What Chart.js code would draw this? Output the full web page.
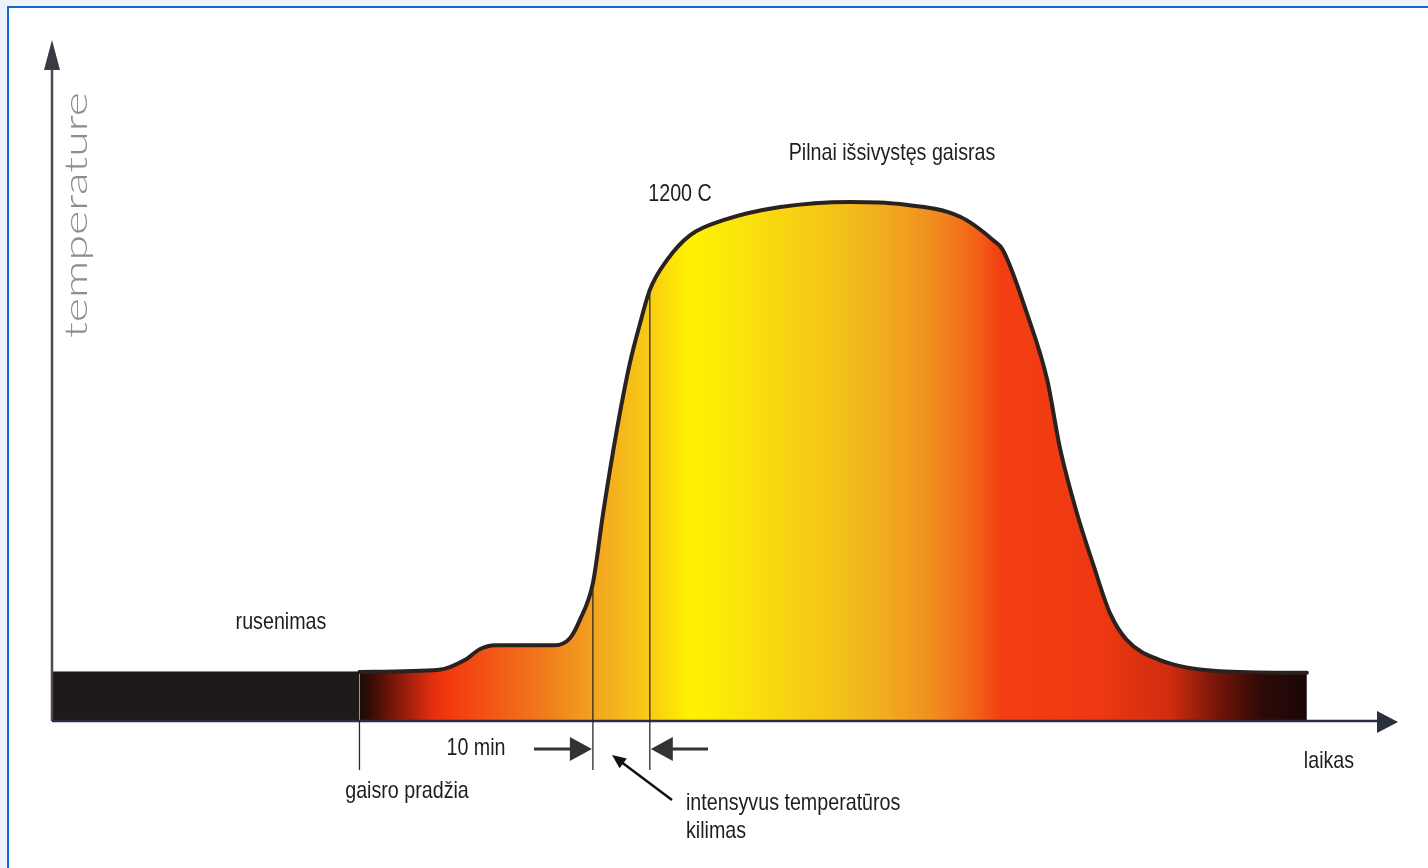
<!DOCTYPE html>
<html>
<head>
<meta charset="utf-8">
<script src="https://cdn.jsdelivr.net/npm/chart.js@4.4.0/dist/chart.umd.min.js"></script>
<style>
html, body { margin: 0; padding: 0; background: #eef3fb; overflow: hidden; }
#frame { position: absolute; left: 7px; top: 6px; width: 1440px; height: 900px; background: #fff;
  border-left: 2px solid #1767d2; border-top: 2px solid #1767d2; }
#wrap { position: absolute; left: 0; top: 0; width: 1428px; height: 868px; }
</style>
</head>
<body>
<div id="frame"></div>
<div id="wrap"><canvas id="myChart"></canvas></div>
<script>
// time in minutes, temperature in C
const smoulderTime = [0, 54]
const smoulderTemp = [113, 113]
const fireTime = [54, 68, 72.5, 75.2, 77.8, 88.3, 91, 92.7, 95, 96.8, 99.2, 101.5, 103.3, 105, 108, 112.1, 117.9, 127.9, 140.2, 148.9, 159.5, 165.3, 167, 171.2, 174.8, 177, 180, 182.8, 185.8, 188.8, 194.6, 205.1, 220.4]
const fireTemp = [113, 118, 141, 167, 176, 176, 193, 235, 322, 487, 682, 840, 934, 1012, 1082, 1141, 1176, 1207, 1219, 1214, 1184, 1129, 1106, 958, 800, 642, 487, 369, 252, 188, 141, 115, 111]

const fireStart = 54   // gaisro pradžia
const riseFrom = 95    // start of the 10 min band
const riseTo = 105

// colour along the time axis (minute, colour)
const gradientStops = [
  [54.1, '#1c0c08'], [56.2, '#3a0c06'], [61.1, '#8c1a0a'], [67.3, '#e8300f'], [69.9, '#f43a10'],
  [78.7, '#f25c18'], [87.5, '#f0801c'], [96.2, '#f2a820'], [105, '#f8cc14'], [112, '#fff200'],
  [117.3, '#fcea08'], [131.4, '#f6d014'], [143.7, '#f2b41e'], [154.2, '#f09020'], [162.1, '#f26418'],
  [166.5, '#f43e12'], [184, '#ee3812'], [196.4, '#d02c10'], [205.1, '#701408'], [212.2, '#2e0a06'],
  [220.4, '#1a0806']
]

const txtFont = "24px 'Liberation Sans', Arial, sans-serif"
const narrow = 0.82

function fireGradient(context) {
  const chart = context.chart
  const area = chart.chartArea
  if (!area) return null
  const xs = chart.scales.x
  const g = chart.ctx.createLinearGradient(area.left, 0, area.right, 0)
  gradientStops.forEach(s => {
    const p = (xs.getPixelForValue(s[0]) - area.left) / (area.right - area.left)
    g.addColorStop(Math.min(1, Math.max(0, p)), s[1])
  })
  return g
}

function arrowHead(ctx, tx, ty, dx, dy, len, half) {
  // tip at (tx,ty), pointing along (dx,dy)
  const n = Math.hypot(dx, dy)
  const ux = dx / n, uy = dy / n
  ctx.beginPath()
  ctx.moveTo(tx, ty)
  ctx.lineTo(tx - ux * len - uy * half, ty - uy * len + ux * half)
  ctx.lineTo(tx - ux * len + uy * half, ty - uy * len - ux * half)
  ctx.closePath()
  ctx.fill()
}

// condensed look: squeeze the text horizontally
function label(ctx, text, x, y, align) {
  ctx.save()
  ctx.translate(x, y)
  ctx.scale(narrow, 1)
  ctx.textAlign = align || 'center'
  ctx.fillText(text, 0, 0)
  ctx.restore()
}

const overlay = {
  id: 'overlay',
  afterDatasetsDraw(chart) {
    const ctx = chart.ctx
    const xs = chart.scales.x, ys = chart.scales.y
    const x0 = xs.getPixelForValue(0), y0 = ys.getPixelForValue(0)
    ctx.save()

    // axes
    ctx.strokeStyle = '#4a4a50'
    ctx.fillStyle = '#3a3a42'
    ctx.lineWidth = 2.5
    ctx.beginPath(); ctx.moveTo(x0, y0 + 1); ctx.lineTo(x0, 62); ctx.stroke()
    arrowHead(ctx, x0, 40, 0, -1, 30, 8)
    ctx.strokeStyle = '#2a2d44'
    ctx.fillStyle = '#2a3040'
    ctx.beginPath(); ctx.moveTo(x0, y0 + 1); ctx.lineTo(1385, y0 + 1); ctx.stroke()
    arrowHead(ctx, 1398, y0 + 2, 1, 0, 21, 11)

    // vertical markers
    ctx.strokeStyle = '#2a2a2a'
    ctx.lineWidth = 1.3
    const xa = xs.getPixelForValue(fireStart)
    ctx.beginPath(); ctx.moveTo(xa, y0 + 2); ctx.lineTo(xa, 770); ctx.stroke()
    const xb = xs.getPixelForValue(riseFrom)
    const yb = ys.getPixelForValue(fireTemp[fireTime.indexOf(riseFrom)])
    ctx.beginPath(); ctx.moveTo(xb, yb); ctx.lineTo(xb, 770); ctx.stroke()
    const xc = xs.getPixelForValue(riseTo)
    const yc = ys.getPixelForValue(fireTemp[fireTime.indexOf(riseTo)])
    ctx.beginPath(); ctx.moveTo(xc, yc); ctx.lineTo(xc, 770); ctx.stroke()

    // 10 min arrows
    ctx.strokeStyle = '#333'
    ctx.fillStyle = '#333'
    ctx.lineWidth = 3
    ctx.beginPath(); ctx.moveTo(534, 749); ctx.lineTo(572, 749); ctx.stroke()
    arrowHead(ctx, xb - 1, 749, 1, 0, 22, 12)
    ctx.beginPath(); ctx.moveTo(708, 749); ctx.lineTo(670, 749); ctx.stroke()
    arrowHead(ctx, xc + 1, 749, -1, 0, 22, 12)
    // pointer to the band
    ctx.lineWidth = 2.5
    ctx.strokeStyle = '#111'
    ctx.fillStyle = '#111'
    ctx.beginPath(); ctx.moveTo(672, 800); ctx.lineTo(620, 761); ctx.stroke()
    arrowHead(ctx, 612, 755, -60, -45, 14, 6)

    // labels
    ctx.fillStyle = '#1e1e1e'
    ctx.font = txtFont
    ctx.textBaseline = 'middle'
    label(ctx, 'rusenimas', 281, 622)
    label(ctx, 'Pilnai išsivystęs gaisras', 892, 153)
    label(ctx, '1200 C', 680, 194)
    label(ctx, '10 min', 476, 748)
    label(ctx, 'gaisro pradžia', 407, 791)
    label(ctx, 'laikas', 1329, 761)
    label(ctx, 'intensyvus temperatūros', 686, 803, 'left')
    label(ctx, 'kilimas', 686, 831, 'left')

    ctx.translate(77, 215)
    ctx.rotate(-Math.PI / 2)
    ctx.scale(1.45, 1)
    ctx.textAlign = 'center'
    ctx.fillStyle = '#8c8c96'
    ctx.font = "300 32px Lato, 'Open Sans', sans-serif"
    ctx.fillText('temperature', 0, 0)
    ctx.restore()
  }
}

const ctx = document.getElementById('myChart')
const myChart = new Chart(ctx, {
  type: 'line',
  data: {
    datasets: [{
      label: 'rusenimas',
      data: smoulderTime.map((t, i) => ({ x: t, y: smoulderTemp[i] })),
      backgroundColor: '#1e1a1a',
      borderColor: '#1e1a1a',
      borderWidth: 1,
      fill: 'origin',
      tension: 0,
      pointRadius: 0
    }, {
      label: 'gaisras',
      data: fireTime.map((t, i) => ({ x: t, y: fireTemp[i] })),
      backgroundColor: fireGradient,
      borderColor: '#2b2220',
      borderWidth: 4,
      borderCapStyle: 'round',
      borderJoinStyle: 'round',
      fill: 'origin',
      cubicInterpolationMode: 'monotone',
      pointRadius: 0
    }]
  },
  options: {
    responsive: true,
    maintainAspectRatio: false,
    animation: false,
    layout: { padding: { left: 52, right: 38, top: 40, bottom: 148 } },
    plugins: { legend: { display: false }, tooltip: { enabled: false } },
    scales: {
      x: { type: 'linear', min: 0, max: 235, display: false },
      y: { min: 0, max: 1600, display: false }
    }
  },
  plugins: [overlay]
})
</script>
</body>
</html>
